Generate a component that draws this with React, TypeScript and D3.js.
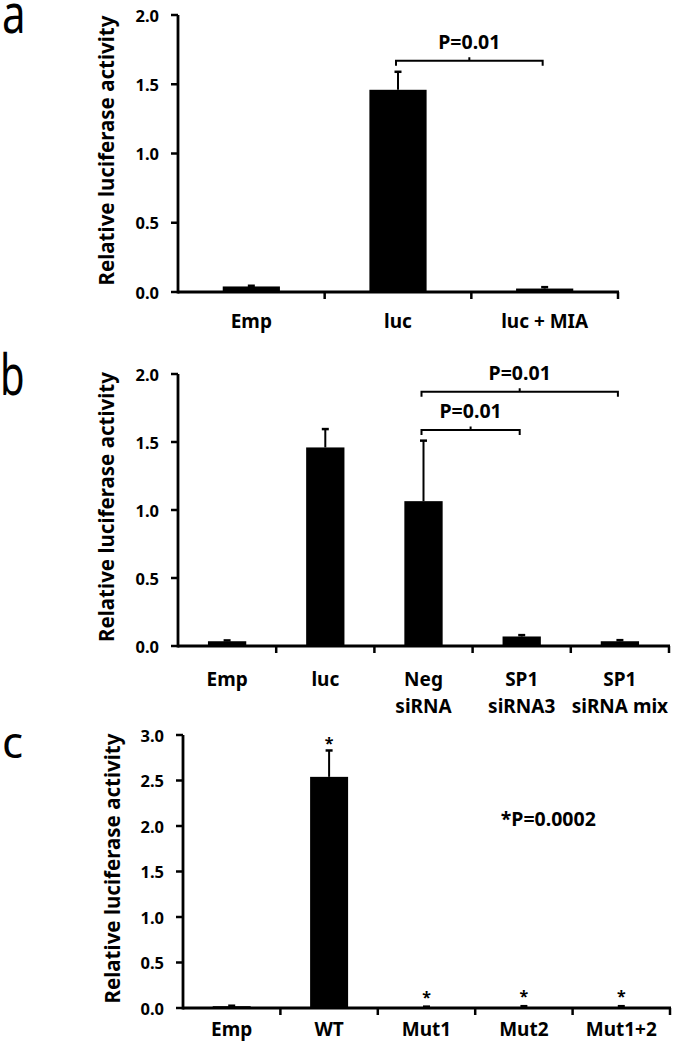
import React from "react";
import * as d3 from "d3";

// ---------- Data ----------
const panelACategories = ["Emp", "luc", "luc + MIA"];
const panelAValues = [0.04, 1.46, 0.025];
const panelAErrors = [0.005, 0.13, 0.01];
const panelATicks = [0, 0.5, 1.0, 1.5, 2.0];

const panelBCategories = ["Emp", "luc", "Neg|siRNA", "SP1|siRNA3", "SP1|siRNA mix"];
const panelBValues = [0.035, 1.46, 1.065, 0.07, 0.035];
const panelBErrors = [0.006, 0.135, 0.445, 0.01, 0.008];
const panelBTicks = [0, 0.5, 1.0, 1.5, 2.0];

const panelCCategories = ["Emp", "WT", "Mut1", "Mut2", "Mut1+2"];
const panelCValues = [0.02, 2.54, 0.005, 0.01, 0.01];
const panelCErrors = [0.005, 0.29, 0.01, 0.01, 0.01];
const panelCTicks = [0, 0.5, 1.0, 1.5, 2.0, 2.5, 3.0];
const panelCStars = [false, true, true, true, true];

const panelABrackets = [{ from: 1, to: 2, level: 1.67, label: "P=0.01" }];
const panelBBrackets = [
  { from: 2, to: 3, level: 1.588, label: "P=0.01" },
  { from: 2, to: 4, level: 1.87, label: "P=0.01" },
];

const FONT = "'Noto Sans', 'DejaVu Sans', sans-serif";

type Bracket = { from: number; to: number; level: number; label: string };

type PanelProps = {
  letter: string;
  letterX: number;
  letterY: number;
  letterSize: number;
  letterScaleY: number;
  categories: string[];
  values: number[];
  errors: number[];
  ticks: number[];
  yMax: number;
  x0: number;
  x1: number;
  yTop: number;
  yBottom: number;
  titleX: number;
  brackets?: Bracket[];
  stars?: boolean[];
  note?: { text: string; cat: number; frac: number; value: number };
  labelY: number;
};

function Panel(p: PanelProps) {
  const x = d3.scaleBand<string>().domain(p.categories).range([p.x0, p.x1]).paddingInner(0).paddingOuter(0);
  const y = d3.scaleLinear().domain([0, p.yMax]).range([p.yBottom, p.yTop]);
  const bw = x.bandwidth();
  const barW = bw * 0.39;
  const cx = (i: number) => (x(p.categories[i]) as number) + bw / 2;
  const fmt = d3.format(".1f");
  const boundaries = p.categories.map((c) => (x(c) as number) + bw);

  return (
    <g>
      <text
        x={p.letterX}
        y={p.letterY}
        fontFamily={FONT}
        fontSize={p.letterSize}
        transform={`translate(0 ${p.letterY}) scale(1 ${p.letterScaleY}) translate(0 ${-p.letterY})`}
        fill="#000"
      >
        {p.letter}
      </text>
      {/* y axis title */}
      <text
        transform={`translate(${p.titleX} ${(p.yTop + p.yBottom) / 2 - 3}) rotate(-90)`}
        textAnchor="middle"
        dominantBaseline="central"
        fontFamily={FONT}
        fontWeight="bold"
        fontSize={20.5}
      >
        Relative luciferase activity
      </text>
      {/* bars */}
      {p.values.map((v, i) => (
        <rect key={"b" + i} x={cx(i) - barW / 2} y={y(v)} width={barW} height={p.yBottom - y(v)} fill="#000" />
      ))}
      {/* error bars */}
      {p.values.map((v, i) => {
        const top = y(v + p.errors[i]);
        return (
          <g key={"e" + i} stroke="#000" strokeWidth={2}>
            <line x1={cx(i)} x2={cx(i)} y1={y(v)} y2={top} />
            <line x1={cx(i) - 3.5} x2={cx(i) + 3.5} y1={top} y2={top} strokeWidth={2.5} />
          </g>
        );
      })}
      {/* y axis */}
      <line x1={p.x0} x2={p.x0} y1={p.yTop} y2={p.yBottom + 1.5} stroke="#000" strokeWidth={2.8} />
      {p.ticks.map((t) => (
        <g key={"t" + t}>
          <line x1={p.x0 - 7} x2={p.x0} y1={y(t)} y2={y(t)} stroke="#000" strokeWidth={2.5} />
          <text
            x={p.x0 - 19}
            y={y(t)}
            textAnchor="end"
            dominantBaseline="central"
            fontFamily={FONT}
            fontWeight="bold"
            fontSize={16.5}
          >
            {fmt(t)}
          </text>
        </g>
      ))}
      {/* x axis */}
      <line x1={p.x0} x2={p.x1 + 1} y1={p.yBottom} y2={p.yBottom} stroke="#000" strokeWidth={2.8} />
      {boundaries.map((b, i) => (
        <line key={"xt" + i} x1={b} x2={b} y1={p.yBottom} y2={p.yBottom + 7} stroke="#000" strokeWidth={2.5} />
      ))}
      {/* category labels */}
      {p.categories.map((c, i) => {
        const lines = c.split("|");
        return (
          <text
            key={"c" + i}
            x={cx(i)}
            y={p.labelY}
            textAnchor="middle"
            fontFamily={FONT}
            fontWeight="bold"
            fontSize={19}
          >
            {lines.map((l, j) => (
              <tspan key={j} x={cx(i)} dy={j === 0 ? 0 : 26.7}>
                {l}
              </tspan>
            ))}
          </text>
        );
      })}
      {/* brackets */}
      {(p.brackets || []).map((br, k) => {
        const xa = cx(br.from) - 2;
        const xb = cx(br.to) - 2;
        const yy = y(br.level);
        const mid = (xa + xb) / 2;
        return (
          <g key={"br" + k}>
            <path
              d={`M${xa},${yy + 5} L${xa},${yy} L${xb},${yy} L${xb},${yy + 5} M${mid},${yy} L${mid},${yy - 3.5}`}
              fill="none"
              stroke="#000"
              strokeWidth={2}
            />
            <text x={mid} y={yy - 12} textAnchor="middle" fontFamily={FONT} fontWeight="bold" fontSize={19.5}>
              {br.label}
            </text>
          </g>
        );
      })}
      {/* stars */}
      {(p.stars || []).map((s, i) =>
        s ? (
          <text
            key={"s" + i}
            x={cx(i)}
            y={y(p.values[i] + p.errors[i]) + (p.values[i] > 0.5 ? -1 : -4)}
            textAnchor="middle"
            fontFamily={FONT}
            fontWeight="bold"
            fontSize={16}
          >
            *
          </text>
        ) : null
      )}
      {p.note ? (
        <text
          x={(x(p.categories[p.note.cat]) as number) + bw * p.note.frac}
          y={y(p.note.value)}
          textAnchor="middle"
          fontFamily={FONT}
          fontWeight="bold"
          fontSize={19.5}
        >
          {p.note.text}
        </text>
      ) : null}
    </g>
  );
}

export default function App() {
  return (
    <svg
      width={675}
      height={1049}
      viewBox="0 0 675 1049"
      style={{ position: "absolute", left: 0, top: 0, background: "#fff" }}
    >
      <rect x={0} y={0} width={675} height={1049} fill="#fff" />
      <Panel
        letter="a"
        letterX={2}
        letterY={33}
        letterSize={42}
        letterScaleY={1.3}
        categories={panelACategories}
        values={panelAValues}
        errors={panelAErrors}
        ticks={panelATicks}
        yMax={2}
        x0={178}
        x1={618}
        yTop={15}
        yBottom={292}
        titleX={106}
        brackets={panelABrackets}
        labelY={328}
      />
      <Panel
        letter="b"
        letterX={0}
        letterY={395}
        letterSize={40}
        letterScaleY={1.4}
        categories={panelBCategories}
        values={panelBValues}
        errors={panelBErrors}
        ticks={panelBTicks}
        yMax={2}
        x0={178}
        x1={669}
        yTop={374}
        yBottom={646}
        titleX={106}
        brackets={panelBBrackets}
        labelY={686}
      />
      <Panel
        letter="c"
        letterX={2}
        letterY={758}
        letterSize={44}
        letterScaleY={1.0}
        categories={panelCCategories}
        values={panelCValues}
        errors={panelCErrors}
        ticks={panelCTicks}
        yMax={3}
        x0={183}
        x1={670}
        yTop={735}
        yBottom={1008}
        titleX={112}
        stars={panelCStars}
        note={{ text: "*P=0.0002", cat: 3, frac: 0.75, value: 2.0 }}
        labelY={1036}
      />
    </svg>
  );
}
